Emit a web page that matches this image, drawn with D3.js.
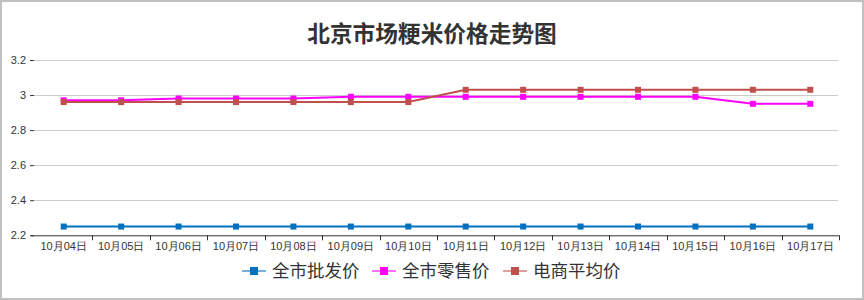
<!DOCTYPE html>
<html>
<head>
<meta charset="utf-8">
<script src="https://cdn.jsdelivr.net/npm/d3@7"></script>
<style>
  body { margin: 0; background: #fff; }
  svg { display: block; font-family: "Liberation Sans", Arial, "Noto Sans CJK SC", sans-serif; }
</style>
</head>
<body>
<div id="chart"></div>
<script>
var dates = ['10月04日', '10月05日', '10月06日', '10月07日', '10月08日', '10月09日', '10月10日',
             '10月11日', '10月12日', '10月13日', '10月14日', '10月15日', '10月16日', '10月17日'];
var wholesale = [2.25, 2.25, 2.25, 2.25, 2.25, 2.25, 2.25, 2.25, 2.25, 2.25, 2.25, 2.25, 2.25, 2.25];
var retail    = [2.97, 2.97, 2.98, 2.98, 2.98, 2.99, 2.99, 2.99, 2.99, 2.99, 2.99, 2.99, 2.95, 2.95];
var online    = [2.96, 2.96, 2.96, 2.96, 2.96, 2.96, 2.96, 3.03, 3.03, 3.03, 3.03, 3.03, 3.03, 3.03];
var seriesNames = ['全市批发价', '全市零售价', '电商平均价'];
var seriesColors = ['#0070c0', '#ff00ff', '#c0504d'];
var yTicks = [2.2, 2.4, 2.6, 2.8, 3, 3.2];

var WIDTH = 864;
var HEIGHT = 300;
var LEFT = 35, RIGHT = 839, TOP = 60, BOTTOM = 235.3;

var svg = d3.select('#chart')
  .append('svg')
    .attr('width', WIDTH)
    .attr('height', HEIGHT);

// outer frame
svg.append('rect')
  .attr('x', 1).attr('y', 1)
  .attr('width', WIDTH - 2).attr('height', HEIGHT - 2)
  .attr('fill', '#fff')
  .attr('stroke', '#c0c0c0')
  .attr('stroke-width', 2);

var x = d3.scaleBand()
  .domain(dates)
  .range([LEFT, RIGHT]);

var y = d3.scaleLinear()
  .domain([2.2, 3.2])
  .range([BOTTOM, TOP]);

// title
svg.append('text')
  .attr('x', WIDTH / 2)
  .attr('y', 42)
  .attr('text-anchor', 'middle')
  .attr('fill', '#333')
  .style('font-size', '22.7px')
  .style('font-weight', 'bold')
  .text('北京市场粳米价格走势图');

// gridlines
svg.append('g')
  .selectAll('line')
  .data(yTicks.slice(1))
  .join('line')
    .attr('x1', LEFT - 1).attr('x2', RIGHT - 1)
    .attr('y1', function(d) { return Math.round(y(d)) + 0.5; })
    .attr('y2', function(d) { return Math.round(y(d)) + 0.5; })
    .attr('stroke', '#ccc');

// y axis
var yAxis = d3.axisLeft(y).tickValues(yTicks).tickSize(4).tickPadding(4)
  .tickFormat(d3.format('~g'));
var gy = svg.append('g')
  .attr('transform', 'translate(' + (LEFT - 1) + ',0)')
  .call(yAxis);
gy.select('.domain').remove();
gy.selectAll('.tick line').attr('stroke', '#333');
gy.selectAll('text').attr('fill', '#333').style('font-size', '11px');

// x axis (ticks on category boundaries)
var xAxis = d3.axisBottom(x).tickSize(0).tickPadding(7);
var gx = svg.append('g')
  .attr('transform', 'translate(0,' + BOTTOM + ')')
  .call(xAxis);
gx.select('.domain').attr('stroke', '#333').attr('d', 'M' + (LEFT - 4) + ',0.5H' + RIGHT);
gx.selectAll('text').attr('fill', '#333').style('font-size', '11px');
gx.selectAll('.bound')
  .data(dates)
  .join('line')
    .attr('class', 'bound')
    .attr('x1', function(d) { return Math.round(x(d) + x.bandwidth()) + 0.5; })
    .attr('x2', function(d) { return Math.round(x(d) + x.bandwidth()) + 0.5; })
    .attr('y1', 0).attr('y2', 5)
    .attr('stroke', '#333');

// series
var allSeries = [wholesale, retail, online];
var line = d3.line()
  .x(function(d, i) { return x(dates[i]) + x.bandwidth() / 2; })
  .y(function(d) { return y(d); });

allSeries.forEach(function(values, s) {
  var g = svg.append('g');
  g.append('path')
    .attr('d', line(values))
    .attr('fill', 'none')
    .attr('stroke', seriesColors[s])
    .attr('stroke-width', 2);
  g.selectAll('rect')
    .data(values)
    .join('rect')
      .attr('x', function(d, i) { return x(dates[i]) + x.bandwidth() / 2 - 3; })
      .attr('y', function(d) { return y(d) - 3; })
      .attr('width', 6).attr('height', 6)
      .attr('fill', seriesColors[s]);
});

// legend
var legendX = [242, 372, 503];
var legend = svg.append('g')
  .selectAll('g')
  .data(seriesNames)
  .join('g')
    .attr('transform', function(d, i) { return 'translate(' + legendX[i] + ',271)'; });
legend.append('line')
  .attr('x1', 0).attr('x2', 24)
  .attr('stroke', function(d, i) { return seriesColors[i]; })
  .attr('stroke-opacity', 0.55)
  .attr('stroke-width', 2);
legend.append('rect')
  .attr('x', 8).attr('y', -4)
  .attr('width', 8).attr('height', 8)
  .attr('fill', function(d, i) { return seriesColors[i]; });
legend.append('text')
  .attr('x', 30)
  .attr('dy', '0.35em')
  .attr('fill', '#333')
  .style('font-size', '17.5px')
  .text(function(d) { return d; });
</script>
</body>
</html>
